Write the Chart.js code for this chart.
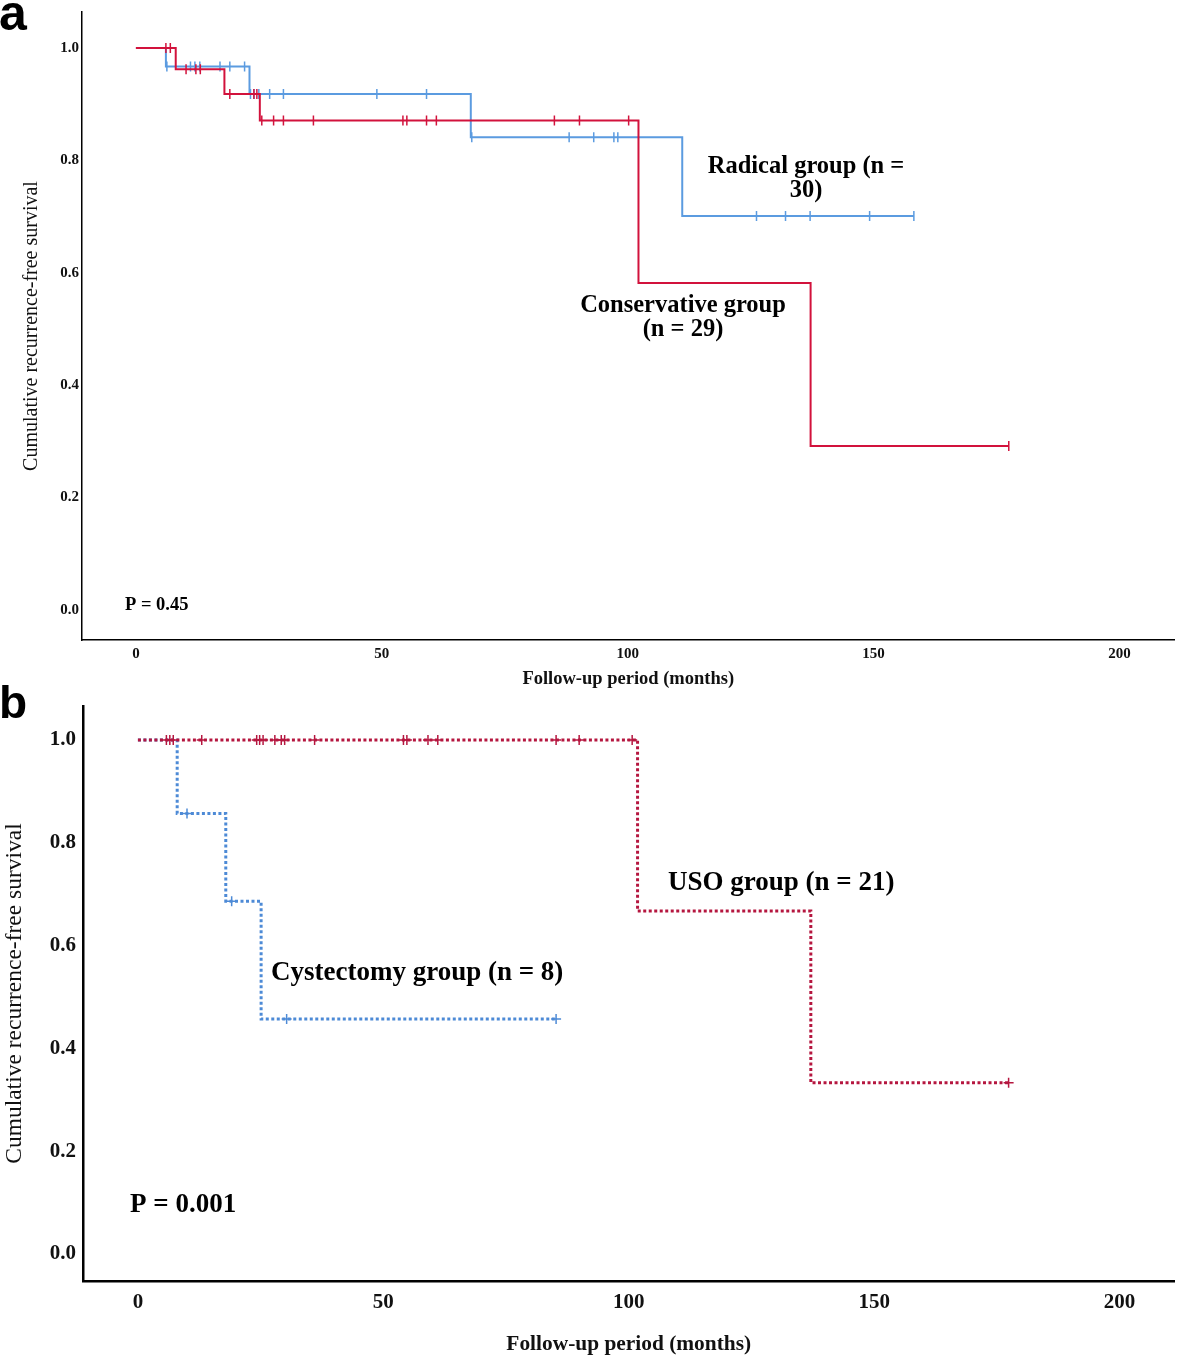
<!DOCTYPE html>
<html>
<head>
<meta charset="utf-8">
<script src="https://cdn.jsdelivr.net/npm/chart.js@4.4.0/dist/chart.umd.min.js"></script>
<style>
  html, body { margin: 0; padding: 0; background: #fff; }
  canvas { position: absolute; left: 0; }
  #chartA { top: 0; }
  #chartB { top: 685px; }
</style>
</head>
<body>
<canvas id="chartA" width="1181" height="690"></canvas>
<canvas id="chartB" width="1181" height="674"></canvas>
<script>
// shared axis ticks
const xTicks = [0, 50, 100, 150, 200];
const xTickLabels = ["0", "50", "100", "150", "200"];
const yTicks = [0, 0.2, 0.4, 0.6, 0.8, 1.0];
const yTickLabels = ["0.0", "0.2", "0.4", "0.6", "0.8", "1.0"];

// panel a: conservative vs radical
const consTimes = [0, 8.1, 18.0, 25.2, 102.2, 137.2, 177.5];
const consSurv = [1.0, 0.962, 0.918, 0.871, 0.582, 0.292, 0.292];
const consCensored = [6.1, 7.0, 10.2, 12.2, 13.1, 19.1, 24.0, 24.6, 25.6, 28.0, 30.0, 36.1, 54.3, 55.1, 59.1, 61.1, 85.1, 90.2, 100.2, 177.5];
const radTimes = [0, 6.1, 23.1, 68.1, 111.1, 158.2];
const radSurv = [1.0, 0.967, 0.918, 0.841, 0.701, 0.701];
const radCensored = [6.3, 11.1, 12.0, 13.0, 17.1, 19.1, 22.1, 23.3, 24.0, 25.0, 27.2, 30.0, 49.0, 59.1, 68.3, 88.1, 93.1, 97.2, 98.0, 126.2, 132.1, 137.1, 149.2, 158.2];

// panel b: USO vs cystectomy
const usoTimes = [0, 101.8, 137.1, 177.4];
const usoSurv = [1.0, 0.667, 0.333, 0.333];
const usoCensored = [5.8, 6.5, 7.2, 13.0, 24.2, 24.8, 25.5, 27.9, 29.2, 29.9, 36.0, 54.1, 54.8, 59.1, 61.1, 85.2, 89.9, 100.7, 177.4];
const cystTimes = [0, 8.0, 17.9, 25.1, 85.2];
const cystSurv = [1.0, 0.857, 0.686, 0.457, 0.457];
const cystCensored = [10.0, 19.1, 30.3, 85.2];

const SERIF = '"Liberation Serif", "Times New Roman", serif';
const SANS = '"Liberation Sans", Arial, sans-serif';

function stepPoints(times, surv) {
  return times.map((t, i) => ({ x: t, y: surv[i] }));
}

// survival value of the step curve at time t
function survAt(times, surv, t) {
  let s = surv[0];
  for (let i = 0; i < times.length; i++) {
    if (times[i] <= t) s = surv[i];
  }
  return s;
}

function censorPoints(cens, times, surv) {
  return cens.map((t) => ({ x: t, y: survAt(times, surv, t) }));
}

const textPlugin = {
  id: "kmText",
  afterDraw(chart, args, opts) {
    const ctx = chart.ctx;
    ctx.save();
    ctx.fillStyle = "#000";
    ctx.textBaseline = "middle";
    opts.items.forEach((t) => {
      ctx.font = t.font;
      ctx.textAlign = t.align;
      t.lines.forEach((line, i) => ctx.fillText(line, t.x, t.y + i * (t.lh || 0)));
    });
    ctx.font = "bold " + opts.tagSize + "px " + SANS;
    ctx.textAlign = "left";
    ctx.textBaseline = "alphabetic";
    ctx.fillText(opts.tag, -1, opts.tagY);
    ctx.restore();
  },
};

function kmChart(id, c) {
  const lineSet = (label, times, surv, color) => ({
    label: label,
    data: stepPoints(times, surv),
    showLine: true,
    stepped: "before",
    borderColor: color,
    borderWidth: c.lineWidth,
    borderDash: c.dash,
    borderCapStyle: "butt",
    pointRadius: 0,
    fill: false,
  });
  const censSet = (label, cens, times, surv, color) => ({
    label: label,
    data: censorPoints(cens, times, surv),
    showLine: false,
    pointStyle: c.censorStyle,
    rotation: c.censorStyle === "line" ? 90 : 0,
    pointRadius: c.censorRadius,
    pointBorderWidth: c.censorWidth,
    pointBorderColor: color,
    pointBackgroundColor: color,
  });
  return new Chart(document.getElementById(id), {
    type: "scatter",
    data: {
      datasets: [
        lineSet(c.s1.name, c.s1.times, c.s1.surv, c.s1.color),
        censSet(c.s1.name + " censored", c.s1.cens, c.s1.times, c.s1.surv, c.s1.color),
        lineSet(c.s2.name, c.s2.times, c.s2.surv, c.s2.color),
        censSet(c.s2.name + " censored", c.s2.cens, c.s2.times, c.s2.surv, c.s2.color),
      ],
    },
    options: {
      responsive: false,
      animation: false,
      events: [],
      layout: { padding: { top: c.top, right: 5, left: 0, bottom: 0 } },
      plugins: {
        legend: { display: false },
        tooltip: { enabled: false },
        kmText: { items: c.texts, tag: c.tag, tagY: c.tagY, tagSize: c.tagSize },
      },
      scales: {
        x: {
          type: "linear",
          min: c.xMin,
          max: c.xMax,
          afterBuildTicks: (s) => { s.ticks = xTicks.map((v) => ({ value: v })); },
          afterFit: (s) => { s.height = c.xAxisH; },
          grid: { display: false, drawTicks: false },
          border: { display: true, color: "#000", width: c.axisWidth },
          ticks: {
            padding: c.xTickPad,
            color: "#111",
            font: { family: SERIF, size: c.tickSize, weight: "bold" },
            callback: (v, i) => xTickLabels[i],
          },
          title: {
            display: true,
            text: "Follow-up period (months)",
            color: "#111",
            font: { family: SERIF, size: c.xTitleSize, weight: "bold" },
            padding: { top: 0, bottom: c.xTitlePad },
          },
        },
        y: {
          type: "linear",
          min: c.yMin,
          max: c.yMax,
          afterBuildTicks: (s) => { s.ticks = yTicks.map((v) => ({ value: v })); },
          afterFit: (s) => { s.width = c.yAxisW; },
          grid: { display: false, drawTicks: false },
          border: { display: true, color: "#000", width: c.axisWidth },
          ticks: {
            padding: c.yTickPad,
            color: "#111",
            font: { family: SERIF, size: c.tickSize, weight: "bold" },
            callback: (v, i) => yTickLabels[i],
          },
          title: {
            display: true,
            text: "Cumulative recurrence-free survival",
            color: "#111",
            font: { family: SERIF, size: c.yTitleSize, weight: "normal" },
            padding: { top: c.yTitlePad, bottom: 0 },
          },
        },
      },
    },
    plugins: [textPlugin],
  });
}

kmChart("chartA", {
  top: 12, xAxisH: 50, yAxisW: 82,
  xMin: -10.96, xMax: 211.2, yMin: -0.0534, yMax: 1.064,
  axisWidth: 1.5, lineWidth: 2, dash: [],
  censorStyle: "line", censorRadius: 5, censorWidth: 1.5,
  tickSize: 15, xTickPad: 5, yTickPad: 3,
  xTitleSize: 18.5, xTitlePad: 0, yTitleSize: 20, yTitlePad: 20,
  tag: "a", tagY: 30, tagSize: 50,
  s1: { name: "Conservative group", times: consTimes, surv: consSurv, cens: consCensored, color: "#d2123c" },
  s2: { name: "Radical group", times: radTimes, surv: radSurv, cens: radCensored, color: "#5b9be0" },
  texts: [
    { lines: ["Radical group (n =", "30)"], x: 806, y: 167, lh: 24, align: "center", font: "bold 24.5px " + SERIF },
    { lines: ["Conservative group", "(n = 29)"], x: 683, y: 306, lh: 24, align: "center", font: "bold 24.5px " + SERIF },
    { lines: ["P = 0.45"], x: 125, y: 605, align: "left", font: "bold 18.5px " + SERIF },
  ],
});

kmChart("chartB", {
  top: 21, xAxisH: 78, yAxisW: 83,
  xMin: -11.19, xMax: 211.2, yMin: -0.0525, yMax: 1.066,
  axisWidth: 2.5, lineWidth: 3, dash: [3, 2.5],
  censorStyle: "cross", censorRadius: 5, censorWidth: 1.5,
  tickSize: 21, xTickPad: 9, yTickPad: 7,
  xTitleSize: 21.4, xTitlePad: 2, yTitleSize: 23.5, yTitlePad: 1,
  tag: "b", tagY: 33, tagSize: 46,
  s1: { name: "USO group", times: usoTimes, surv: usoSurv, cens: usoCensored, color: "#b5163f" },
  s2: { name: "Cystectomy group", times: cystTimes, surv: cystSurv, cens: cystCensored, color: "#4d8ad6" },
  texts: [
    { lines: ["USO group (n = 21)"], x: 668, y: 198, align: "left", font: "bold 27px " + SERIF },
    { lines: ["Cystectomy group (n = 8)"], x: 271, y: 288, align: "left", font: "bold 27px " + SERIF },
    { lines: ["P = 0.001"], x: 130, y: 520, align: "left", font: "bold 27px " + SERIF },
  ],
});
</script>
</body>
</html>
